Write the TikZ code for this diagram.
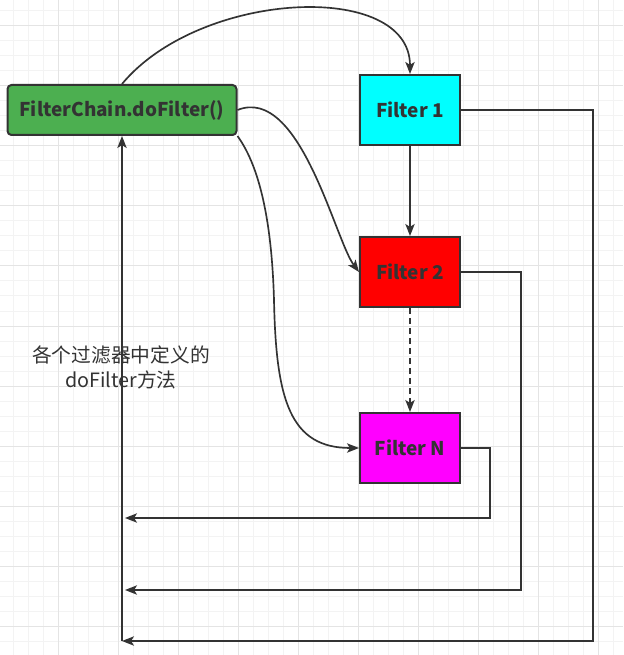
\documentclass[tikz,border=0pt]{standalone}
\usepackage{fontspec}
\setmainfont{Noto Sans CJK SC}
\usetikzlibrary{arrows.meta}
\definecolor{ln}{HTML}{333333}
\definecolor{gmin}{HTML}{F3F3F3}
\definecolor{gmaj}{HTML}{E4E4E4}
\definecolor{fcgreen}{HTML}{4CAF50}
\definecolor{fcyan}{HTML}{00FFFF}
\definecolor{fred}{HTML}{FF0000}
\definecolor{fmag}{HTML}{FF00FF}
\tikzset{
  stepbox/.style={draw=ln, line width=1.5pt, minimum width=75pt, minimum height=52.5pt,
    inner sep=0pt, text=ln, font=\bfseries\fontsize{14.2}{16}\selectfont},
  conn/.style={draw=ln, line width=1.25pt, -{Stealth[length=9pt,width=7pt,inset=2.2pt]}},
  minorgrid/.style={draw=gmin, line width=0.75pt},
  majorgrid/.style={draw=gmaj, line width=0.75pt},
}
\begin{document}
\begin{tikzpicture}[x=0.75pt,y=-0.75pt]
\useasboundingbox (0,0) rectangle (623,655);
\fill[white] (0,0) rectangle (623,655);
% grid
\foreach \x in {13,28,...,623} \draw[minorgrid] (\x,0) -- (\x,655);
\foreach \y in {11,26,...,655} \draw[minorgrid] (0,\y) -- (623,\y);
\foreach \x in {58,118,...,623} \draw[majorgrid] (\x,0) -- (\x,655);
\foreach \y in {26,86,...,655} \draw[majorgrid] (0,\y) -- (623,\y);
% nodes
\node[stepbox, fill=fcgreen, minimum width=171.75pt, minimum height=37.5pt, rounded corners=3pt] (fc) at (122,110) {FilterChain.doFilter()};
\node[stepbox, fill=fcyan] (f1) at (410,110) {Filter 1};
\node[stepbox, fill=fred] (f2) at (410,272) {Filter 2};
\node[stepbox, fill=fmag] (fN) at (410,448) {Filter N};
\node[text=ln, align=center, font=\fontsize{14.8}{18.75}\selectfont] (lbl) at (121,367) {各个过滤器中定义的\\doFilter方法};
% coordinates for return paths
\coordinate (r1a) at (593,110);
\coordinate (r1b) at (593,641);
\coordinate (r1c) at (122,641);
\coordinate (r2a) at (521,272);
\coordinate (r2b) at (521,590);
\coordinate (r2c) at (125,590);
\coordinate (r3a) at (490,448);
\coordinate (r3b) at (490,518);
\coordinate (r3c) at (125,518);
% curved connectors
\draw[conn] (fc.north) .. controls (200,-10) and (410,-20) .. (f1.north);
\draw[conn] (fc.east) .. controls (300,85) and (335,240) .. (f2.west);
\draw[conn] (fc.south east) .. controls (262,170) and (272,230) .. (274,300) .. controls (276,400) and (290,448) .. (fN.west);
% straight connectors
\draw[conn] (f1.south) -- (f2.north);
\draw[conn, dash pattern=on 4.5pt off 3pt] (f2.south) -- (fN.north);
% returns
\draw[conn] (f1.east) -- (r1a) -- (r1b) -- (r1c);
\draw[conn] (f2.east) -- (r2a) -- (r2b) -- (r2c);
\draw[conn] (fN.east) -- (r3a) -- (r3b) -- (r3c);
\draw[conn] (r1c) -- (fc.south);
\end{tikzpicture}
\end{document}
